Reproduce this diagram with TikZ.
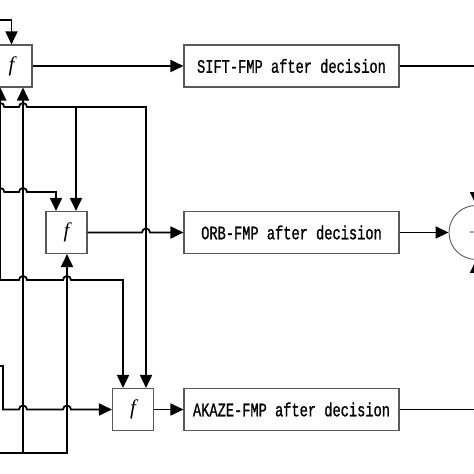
\documentclass[tikz,border=0pt]{standalone}
\usepackage{fontspec}
\newfontfamily\boxfont[FakeStretch=0.72,FakeBold=0.9]{Liberation Mono}
\newfontfamily\ffont{Liberation Serif}
\usetikzlibrary{arrows.meta,calc}
\begin{document}
\begin{tikzpicture}[x=1bp,y=1bp,
  conn/.style={line width=1.8bp, black},
  arr/.style={conn, -{Triangle[length=13bp,width=12bp]}},
  fbox/.style={draw=gray!70!black, line width=1.1bp, minimum width=41bp, minimum height=42bp, inner sep=0pt, font=\ffont\itshape\fontsize{21bp}{23bp}\selectfont},
  tbox/.style={draw=gray!70!black, line width=1.1bp, minimum width=215bp, minimum height=42bp, inner sep=0pt, font=\boxfont\fontsize{19bp}{21bp}\selectfont},
  sumnode/.style={circle, draw=gray!70!black, line width=0.9bp, minimum size=54bp, inner sep=0pt, font=\fontsize{20bp}{22bp}\selectfont},
  hopat/.style={insert path={-- ($(#1)+(-4,0)$) arc[start angle=180,end angle=0,radius=4bp]}}
]
\useasboundingbox (0,0) rectangle (474,474);
\clip (0,0) rectangle (474,474);
% nodes
\node[fbox] (f1) at (11.5,408) {f};
\node[fbox] (f2) at (66.5,241.5) {f};
\node[fbox] (f3) at (133,64.5) {f};
\node[tbox] (sift) at (291.5,408) {SIFT-FMP after decision};
\node[tbox] (orb) at (291.5,241.5) {ORB-FMP after decision};
\node[tbox] (akaze) at (291.5,64.5) {AKAZE-FMP after decision};
\node[sumnode] (sum) at (476,241.5) {+};
% columns
\coordinate (xA) at (0.3,0);
\coordinate (xB) at (23,0);
\coordinate (xC) at (56,0);
\coordinate (xD) at (67,0);
\coordinate (xE) at (76,0);
\coordinate (xF) at (123,0);
\coordinate (xG) at (146,0);
% inputs
\coordinate (inT) at (-5,454);
\coordinate (inA) at (-5,367);
\coordinate (inB) at (-5,282);
\coordinate (inC) at (-5,194);
\coordinate (inD) at (-5,108);
\coordinate (inE) at (-5,21);
\coordinate (bend) at (3,108);
% connectors
\draw[arr] (inT) -| (f1.north);
\draw[arr] (inA) [hopat={xA |- inA}] [hopat={xB |- inA}] -- (xG |- inA) -- (xG |- f3.north);
\draw[arr] (xE |- inA) -- (xE |- f2.north);
\draw[arr] (inB) [hopat={xA |- inB}] [hopat={xB |- inB}] -- (xC |- inB) -- (xC |- f2.north);
\draw[arr] (inC) [hopat={xB |- inC}] [hopat={xD |- inC}] -- (xF |- inC) -- (xF |- f3.north);
\draw[arr] (xA |- inC) -- (xA |- f1.south);
\draw[arr] (inD) -- (bend) -- (bend |- f3.west) [hopat={xB |- f3.west}] [hopat={xD |- f3.west}] -- (f3.west);
\draw[arr] (inE) -- (xD |- inE) -- (xD |- f2.south);
\draw[arr] (xB |- inE) -- (xB |- f1.south);
\draw[arr] (f1.east) -- (sift.west);
\draw[arr] (f2.east) [hopat={xG |- f2.east}] -- (orb.west);
\draw[arr] (f3.east) -- (akaze.west);
\draw[arr] (sift.east) -| (sum.north);
\draw[arr] (orb.east) -- (sum.west);
\draw[arr] (akaze.east) -| (sum.south);
\end{tikzpicture}
\end{document}
